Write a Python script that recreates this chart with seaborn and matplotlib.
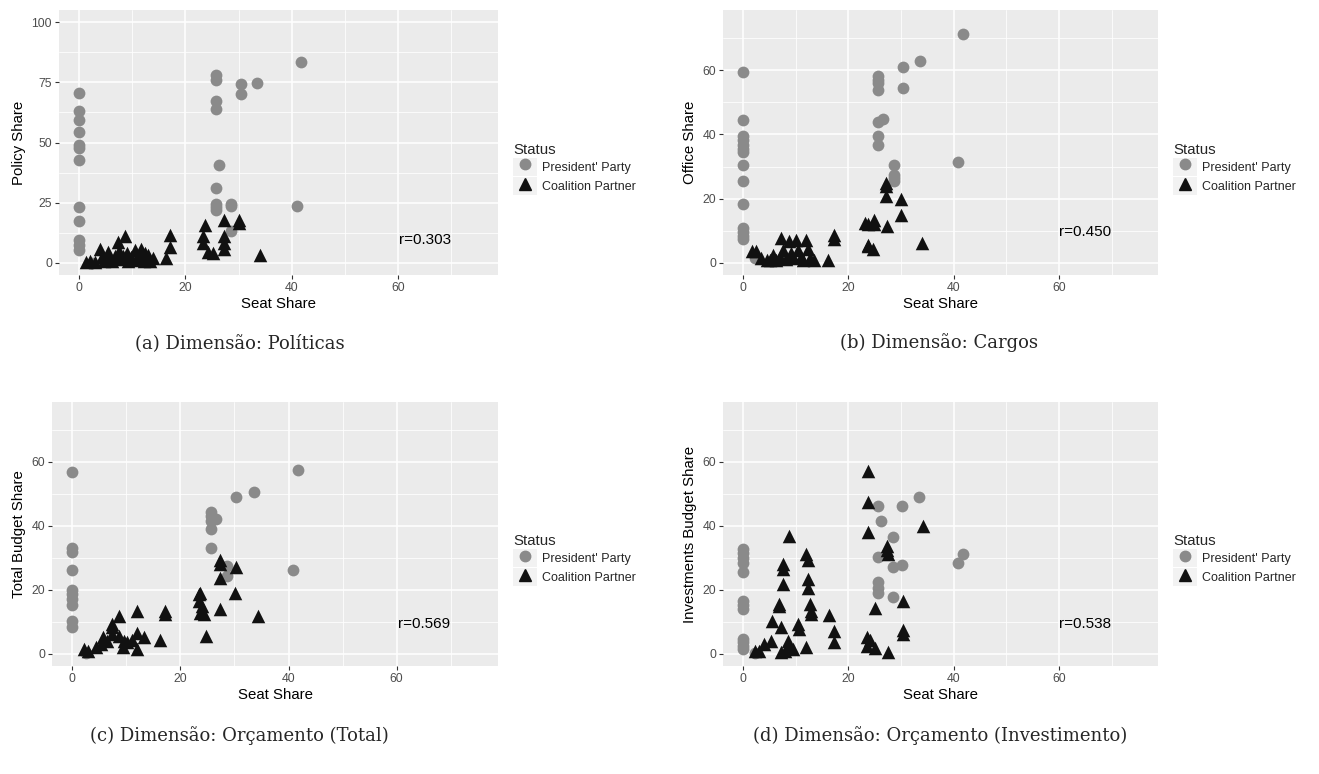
import matplotlib
matplotlib.use("Agg")
import matplotlib.pyplot as plt
import numpy as np
import pandas as pd
import seaborn as sns
from matplotlib.patches import Rectangle
from matplotlib.lines import Line2D
from matplotlib.legend_handler import HandlerTuple

# ---------------- data ----------------
status_labels = ["President' Party", "Coalition Partner"]

# (a) Policy share
a_pres_x = [0]*12 + [2.5] + [25.7]*8 + [26.4] + [28.6, 28.6, 28.6] + [30.4, 30.4, 33.5, 41.8, 40.9]
a_pres_y = [70.4, 63.1, 59.4, 54.3, 48.9, 47.9, 42.8, 23.2, 17.5, 9.4, 7.6, 5.5,
            0.0,
            78.2, 76.0, 67.3, 64.0, 31.0, 24.6, 23.2, 22.1,
            40.5,
            24.6, 23.8, 13.4,
            74.3, 70.2, 74.6, 83.4, 23.5]
a_coal_x = [1.4, 2.0, 3.0, 3.9, 4.3, 4.8, 5.5, 5.8, 6.2, 6.8, 7.3, 7.5, 7.8, 8.2, 8.6, 9.0,
            9.3, 9.8, 10.5, 10.8, 11.3, 11.7, 12.2, 12.5, 13.0, 13.4, 13.9, 16.3, 17.2, 17.2,
            23.4, 23.4, 23.7, 24.2, 25.1, 27.3, 27.3, 27.3, 27.3, 30.1, 30.1, 34.0]
a_coal_y = [0.5, 1.0, 0.5, 6.0, 2.5, 1.0, 4.7, 2.0, 0.8, 3.0, 8.9, 5.0, 1.5, 2.8, 11.0, 4.0,
            0.8, 2.5, 5.4, 1.2, 3.0, 6.0, 1.0, 4.0, 3.3, 1.0, 2.0, 2.2, 6.8, 11.6,
            11.0, 8.2, 15.8, 4.7, 4.0, 17.9, 11.0, 8.2, 6.0, 17.9, 16.5, 3.3]

# (b) Office share
b_pres_x = [0]*14 + [2.4] + [25.6, 25.6, 25.6, 25.6, 25.6, 26.6, 25.7, 25.7] + \
           [28.6, 28.6, 28.6, 28.6] + [30.4, 30.4, 33.6, 41.8, 40.9]
b_pres_y = [59.3, 44.6, 39.4, 38.3, 36.8, 35.5, 34.4, 30.5, 25.6, 18.2, 10.9, 9.6, 8.3, 7.5,
            1.5,
            58.2, 57.0, 56.0, 53.8, 44.0, 44.9, 39.4, 36.8,
            30.6, 27.3, 26.4, 25.4,
            61.0, 54.4, 62.8, 71.3, 31.4]
b_coal_x = [1.7, 2.6, 3.5, 4.5, 5.2, 5.8, 6.3, 7.0, 7.3, 7.6, 8.2, 8.8, 9.2, 9.6, 10.0, 10.5,
            11.0, 11.5, 12.0, 12.3, 12.8, 13.5, 16.2, 17.3, 17.3,
            23.2, 23.8, 24.9, 24.9, 23.8, 23.7, 24.7, 27.2, 27.2, 27.2, 27.3, 30.1, 30.1, 34.0]
b_coal_y = [3.6, 3.6, 1.5, 0.8, 1.0, 2.5, 0.8, 2.0, 7.8, 4.0, 1.2, 6.7, 3.0, 1.5, 7.0, 4.0,
            2.0, 0.8, 7.0, 4.5, 1.6, 1.0, 1.0, 8.8, 7.5,
            12.4, 12.2, 13.5, 12.2, 5.2, 5.7, 4.4, 25.0, 24.0, 20.7, 11.6, 19.9, 15.0, 6.2]

# (c) Total budget share
c_pres_x = [0]*10 + [2.5] + [25.7, 25.7, 25.7, 25.7, 25.7, 26.6] + [28.7, 28.7, 30.3, 33.6, 41.8, 40.9]
c_pres_y = [56.9, 33.2, 31.8, 26.4, 20.0, 18.7, 17.1, 15.2, 10.4, 8.3,
            0.3,
            44.4, 43.0, 41.5, 39.2, 33.2, 42.2,
            27.5, 24.4, 49.0, 50.6, 57.5, 26.2]
c_coal_x = [2.2, 3.0, 4.4, 5.3, 5.6, 6.5, 7.4, 7.4, 7.4, 8.6, 8.6, 9.6, 10.2, 9.3, 11.0, 12.0,
            12.0, 12.0, 13.3, 16.3, 17.2, 17.2, 23.7, 23.4, 23.4, 24.0, 23.7, 24.3, 24.8,
            27.4, 27.4, 27.4, 27.4, 30.3, 30.1, 34.3]
c_coal_y = [1.5, 1.0, 2.1, 3.1, 5.2, 4.0, 8.3, 9.3, 6.2, 12.0, 5.7, 4.1, 3.6, 2.1, 4.5, 13.4,
            6.7, 1.55, 5.2, 4.5, 13.4, 12.4, 19.2, 18.7, 16.6, 15.0, 12.9, 12.4, 5.7,
            29.5, 28.0, 23.7, 14.0, 27.3, 19.2, 11.9]

# (d) Investments budget share
d_pres_x = [0]*12 + [2.4] + [25.7, 26.3, 28.5, 25.7, 28.5, 30.2, 30.2, 33.4, 25.6, 25.6, 25.6,
                             28.5, 41.7, 40.9]
d_pres_y = [32.8, 31.6, 30.0, 28.5, 25.6, 16.6, 15.2, 14.0, 4.7, 3.6, 2.6, 1.6,
            0.3,
            46.4, 41.7, 36.6, 30.4, 27.3, 27.7, 46.4, 49.2, 22.5, 20.7, 19.2, 17.8, 31.2, 28.3]
d_coal_x = [23.8, 23.7, 23.7, 34.2, 27.4, 27.4, 27.6, 30.3, 25.0, 30.3, 30.3, 23.5, 24.1, 23.5,
            25.0, 27.6,
            8.7, 7.7, 7.7, 7.7, 12.0, 12.3, 12.3, 12.3, 12.7, 13.0, 13.0, 16.3, 17.3, 17.3, 6.9,
            6.9, 5.5, 7.3, 10.4, 10.6, 12.0, 5.4, 4.1, 2.3, 8.7, 8.1, 9.6, 7.2, 3.0, 8.5]
d_coal_y = [57.2, 47.6, 38.0, 40.1, 33.8, 32.6, 31.2, 16.5, 14.5, 7.4, 6.4, 5.3, 4.5, 2.4,
            1.9, 0.5,
            36.8, 28.0, 26.5, 21.9, 31.1, 29.5, 23.3, 20.7, 15.5, 13.5, 12.4, 12.1, 7.3, 3.6, 15.5,
            15.0, 10.3, 8.3, 9.3, 7.8, 2.1, 4.1, 3.1, 1.0, 2.6, 1.0, 1.5, 0.7, 0.8, 4.0]

y_titles = ["Policy Share", "Office Share", "Total Budget Share", "Investments Budget Share"]
r_labels = ["r=0.303", "r=0.450", "r=0.569", "r=0.538"]
captions = ["(a) Dimensão: Políticas", "(b) Dimensão: Cargos",
            "(c) Dimensão: Orçamento (Total)", "(d) Dimensão: Orçamento (Investimento)"]
x_ticks = [0, 20, 40, 60]
y_ticks_a = [0, 25, 50, 75, 100]
y_ticks_other = [0, 20, 40, 60]

# ---------------- style ----------------
sns.set_theme(style="darkgrid")
plt.rcParams["font.family"] = ["Liberation Sans", "DejaVu Sans"]

W, H = 1319, 774
fig = plt.figure(figsize=(W / 100, H / 100), dpi=100)
fig.patch.set_facecolor("white")

def rect(l, r, t, b):
    return [l / W, 1 - b / H, (r - l) / W, (b - t) / H]

boxes = [rect(59, 498, 10, 275), rect(723, 1158, 10, 275),
         rect(52, 498, 402, 666), rect(723, 1158, 402, 666)]
cap_pos = [(240, 343), (939, 343), (239, 736), (940, 736)]

panels = [(a_pres_x, a_pres_y, a_coal_x, a_coal_y),
          (b_pres_x, b_pres_y, b_coal_x, b_coal_y),
          (c_pres_x, c_pres_y, c_coal_x, c_coal_y),
          (d_pres_x, d_pres_y, d_coal_x, d_coal_y)]

PRES_C = "#8A8A8A"
COAL_C = "#111111"

for i, (px, py, cx, cy) in enumerate(panels):
    ax = fig.add_axes(boxes[i])
    ax.set_facecolor("#EBEBEB")
    df = pd.concat([
        pd.DataFrame({"x": px, "y": py, "Status": status_labels[0]}),
        pd.DataFrame({"x": cx, "y": cy, "Status": status_labels[1]}),
    ], ignore_index=True)
    sns.scatterplot(data=df[df.Status == status_labels[0]], x="x", y="y", ax=ax,
                    color=PRES_C, marker="o", s=72, linewidth=0, legend=False, zorder=3)
    sns.scatterplot(data=df[df.Status == status_labels[1]], x="x", y="y", ax=ax,
                    color=COAL_C, marker="^", s=95, linewidth=0, legend=False, zorder=4)

    ax.set_xlim(-3.75, 78.75)
    ax.set_xticks(x_ticks)
    ax.set_xticks([10, 30, 50, 70], minor=True)
    if i == 0:
        ax.set_ylim(-5, 105)
        ax.set_yticks(y_ticks_a)
        ax.set_yticks([12.5, 37.5, 62.5, 87.5], minor=True)
    else:
        ax.set_ylim(-3.75, 78.75)
        ax.set_yticks(y_ticks_other)
        ax.set_yticks([10, 30, 50, 70], minor=True)
    ax.grid(which="major", color="white", linewidth=1.1)
    ax.grid(which="minor", color="white", linewidth=0.55)
    ax.set_axisbelow(True)
    for s in ax.spines.values():
        s.set_visible(False)
    ax.tick_params(which="major", length=3, width=0.8, color="#333333", labelsize=8.8,
                   labelcolor="#4D4D4D", pad=2, bottom=True, left=True)
    ax.tick_params(which="minor", length=0)
    ax.set_xlabel("Seat Share", fontsize=10.8, labelpad=2, color="black")
    ax.set_ylabel(y_titles[i], fontsize=10.8, labelpad=4, color="black")

    ax.text(65, 9.5, r_labels[i], ha="center", va="center", fontsize=11, color="black")

    box1 = Rectangle((0, 0), 1, 1, facecolor="#F2F2F2", edgecolor="none")
    box2 = Rectangle((0, 0), 1, 1, facecolor="#F2F2F2", edgecolor="none")
    h1 = (box1, Line2D([], [], marker="o", color=PRES_C, ls="", markersize=7.5))
    h2 = (box2, Line2D([], [], marker="^", color=COAL_C, ls="", markersize=9))
    ax_w_px = boxes[i][2] * W
    leg = ax.legend([h1, h2], status_labels, title="Status",
                    handler_map={tuple: HandlerTuple(ndivide=1, pad=0)},
                    loc="center left", bbox_to_anchor=(1 + 15 / ax_w_px, 0.40), frameon=False,
                    fontsize=9, title_fontsize=10.8, handlelength=1.92, handleheight=1.85,
                    handletextpad=0.4, labelspacing=0.08, borderpad=0, borderaxespad=0)
    leg._legend_box.align = "left"

    fig.text(cap_pos[i][0] / W, 1 - cap_pos[i][1] / H, captions[i], ha="center", va="center",
             family="DejaVu Serif", fontsize=13)

fig.savefig("out.png", dpi=100)
